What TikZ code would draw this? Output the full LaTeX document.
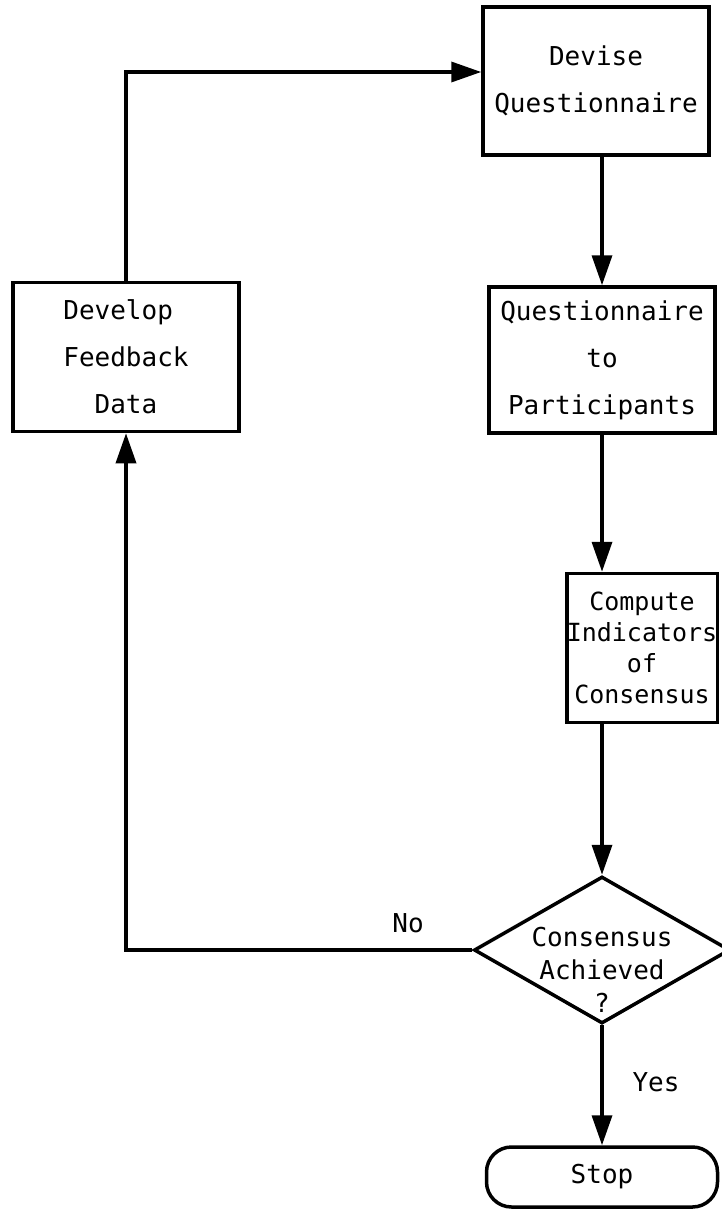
\documentclass[tikz,border=0pt]{standalone}
\usepackage{fontspec}
\setmainfont{DejaVu Sans Mono}
\usetikzlibrary{arrows.meta,shapes.geometric}
\begin{document}
\begin{tikzpicture}[x=1pt,y=-1pt,
  box/.style={draw, line width=3.5pt, inner sep=0pt, align=center, font=\fontsize{26}{47}\selectfont},
  conn/.style={line width=3.5pt, -{Triangle[length=30pt,width=20pt]}},
  lbl/.style={font=\fontsize{26}{33}\selectfont, inner sep=0pt, align=center}]
\clip (0,0) rectangle (722,1228);
\fill[white] (0,0) rectangle (722,1228);
\node[box, minimum width=226pt, minimum height=148pt] (dq) at (596,81) {Devise\\Questionnaire};
\node[box, minimum width=226pt, minimum height=149pt, align=left] (fb) at (126,357) {Develop\\Feedback\\\hphantom{Fe}Data};
\node[box, minimum width=226pt, minimum height=146pt] (qp) at (602,360) {Questionnaire\\to\\Participants};
\node[box, minimum width=145pt, minimum height=149pt, font=\fontsize{25}{31}\selectfont] (ci) at (642,648) {Compute\\Indicators\\of\\Consensus};
\node[diamond, draw, line width=3.5pt, inner sep=0pt, minimum width=256pt, minimum height=147pt] (ca) at (602,950) {};
\node[lbl] (cat) at (602,970) {Consensus\\Achieved\\?};
\node[draw, line width=3.5pt, rounded corners=25pt, inner sep=0pt, minimum width=231pt, minimum height=60pt, font=\fontsize{26}{31}\selectfont] (st) at (602,1177) {Stop};
\coordinate (tin) at ([yshift=9pt]dq.west);
\draw[conn] (qp.north |- dq.south) -- (qp.north);
\draw[conn] (qp.south) -- (qp.south |- ci.north);
\draw[conn] (ca.north |- ci.south) -- (ca.north);
\draw[conn] (ca.south) -- (st.north);
\draw[conn] (ca.west) -| (fb.south);
\draw[conn] (fb.north) |- (tin);
\node[lbl] (no) at (408,923) {No};
\node[lbl] (yes) at (656,1082) {Yes};
\end{tikzpicture}
\end{document}
